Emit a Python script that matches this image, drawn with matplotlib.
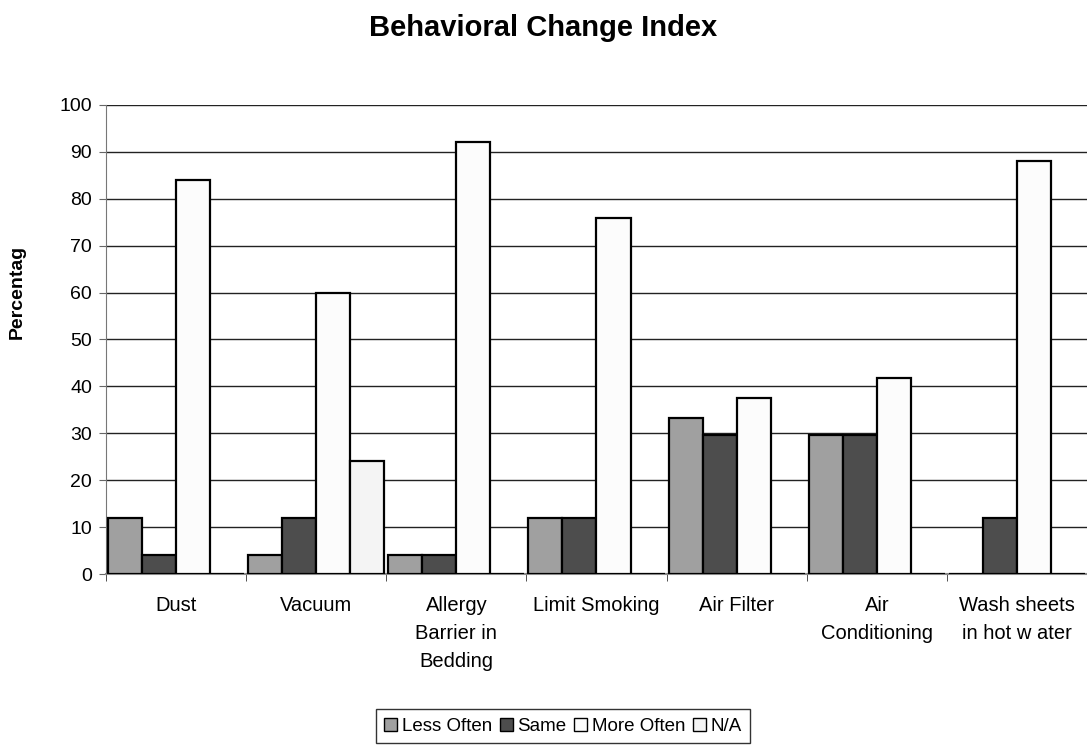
import matplotlib
matplotlib.use("Agg")
import matplotlib.pyplot as plt
import numpy as np

categories = ["Dust", "Vacuum", "Allergy\nBarrier in\nBedding", "Limit Smoking",
              "Air Filter", "Air\nConditioning", "Wash sheets\nin hot w ater"]
series_names = ["Less Often", "Same", "More Often", "N/A"]
less_often = [12, 4, 4, 12, 33.3, 29.6, 0]
same = [4, 12, 4, 12, 29.6, 29.6, 12]
more_often = [84, 60, 92, 76, 37.5, 41.7, 88]
na = [0, 24, 0, 0, 0, 0, 0]
yticks = [0, 10, 20, 30, 40, 50, 60, 70, 80, 90, 100]

colors = ["#a0a0a0", "#4d4d4d", "#fcfcfc", "#f4f4f4"]

plt.rcParams['font.family'] = ['Liberation Sans', 'DejaVu Sans']

fig = plt.figure(figsize=(10.87, 7.53), dpi=100)
ax = fig.add_axes([0.0975, 0.2377, 0.9025, 0.6229])

n = len(categories)
x = np.arange(n)
bw = 0.243
data = [less_often, same, more_often, na]
for i, (vals, c, name) in enumerate(zip(data, colors, series_names)):
    offs = (i - 1.5) * bw
    ax.bar(x + offs, vals, width=bw, color=c, edgecolor="black", linewidth=1.6,
           label=name, zorder=3)

ax.set_xlim(-0.5, n - 0.5)
ax.set_ylim(0, 100)
ax.set_yticks(yticks)
ax.set_yticklabels([str(t) for t in yticks], fontsize=14)
ax.yaxis.grid(True, color="#222222", linewidth=1.0, zorder=0)
ax.set_axisbelow(True)

ax.set_xticks(x)
ax.set_xticklabels(categories, fontsize=14.5, linespacing=1.6, va="top")
ax.tick_params(axis="x", which="major", length=0, pad=16)
ax.set_xticks(np.arange(-0.5, n, 1.0), minor=True)
ax.tick_params(axis="x", which="minor", length=5, direction="out", color="#333333")
ax.tick_params(axis="y", length=5, direction="out", color="#666666", pad=5)

for s in ["top", "right"]:
    ax.spines[s].set_visible(False)
ax.spines["left"].set_color("#777777")
ax.spines["bottom"].set_color("#888888")
ax.spines["bottom"].set_linewidth(1.5)

ax.set_ylabel("Percentag", fontsize=14, fontweight="bold")
ax.yaxis.set_label_coords(-0.0815, 0.601)

fig.suptitle("Behavioral Change Index", fontsize=21, fontweight="bold", y=0.981)

leg = fig.legend(loc="center", bbox_to_anchor=(0.518, 0.0355), ncol=4, fontsize=13.5,
                 frameon=True, fancybox=False, edgecolor="black", handlelength=0.7,
                 handleheight=0.7, handletextpad=0.25, columnspacing=0.4,
                 borderpad=0.45)
leg.get_frame().set_linewidth(1.0)
for h in leg.legend_handles:
    h.set_linewidth(1.0)

fig.savefig("out.png", dpi=100)
